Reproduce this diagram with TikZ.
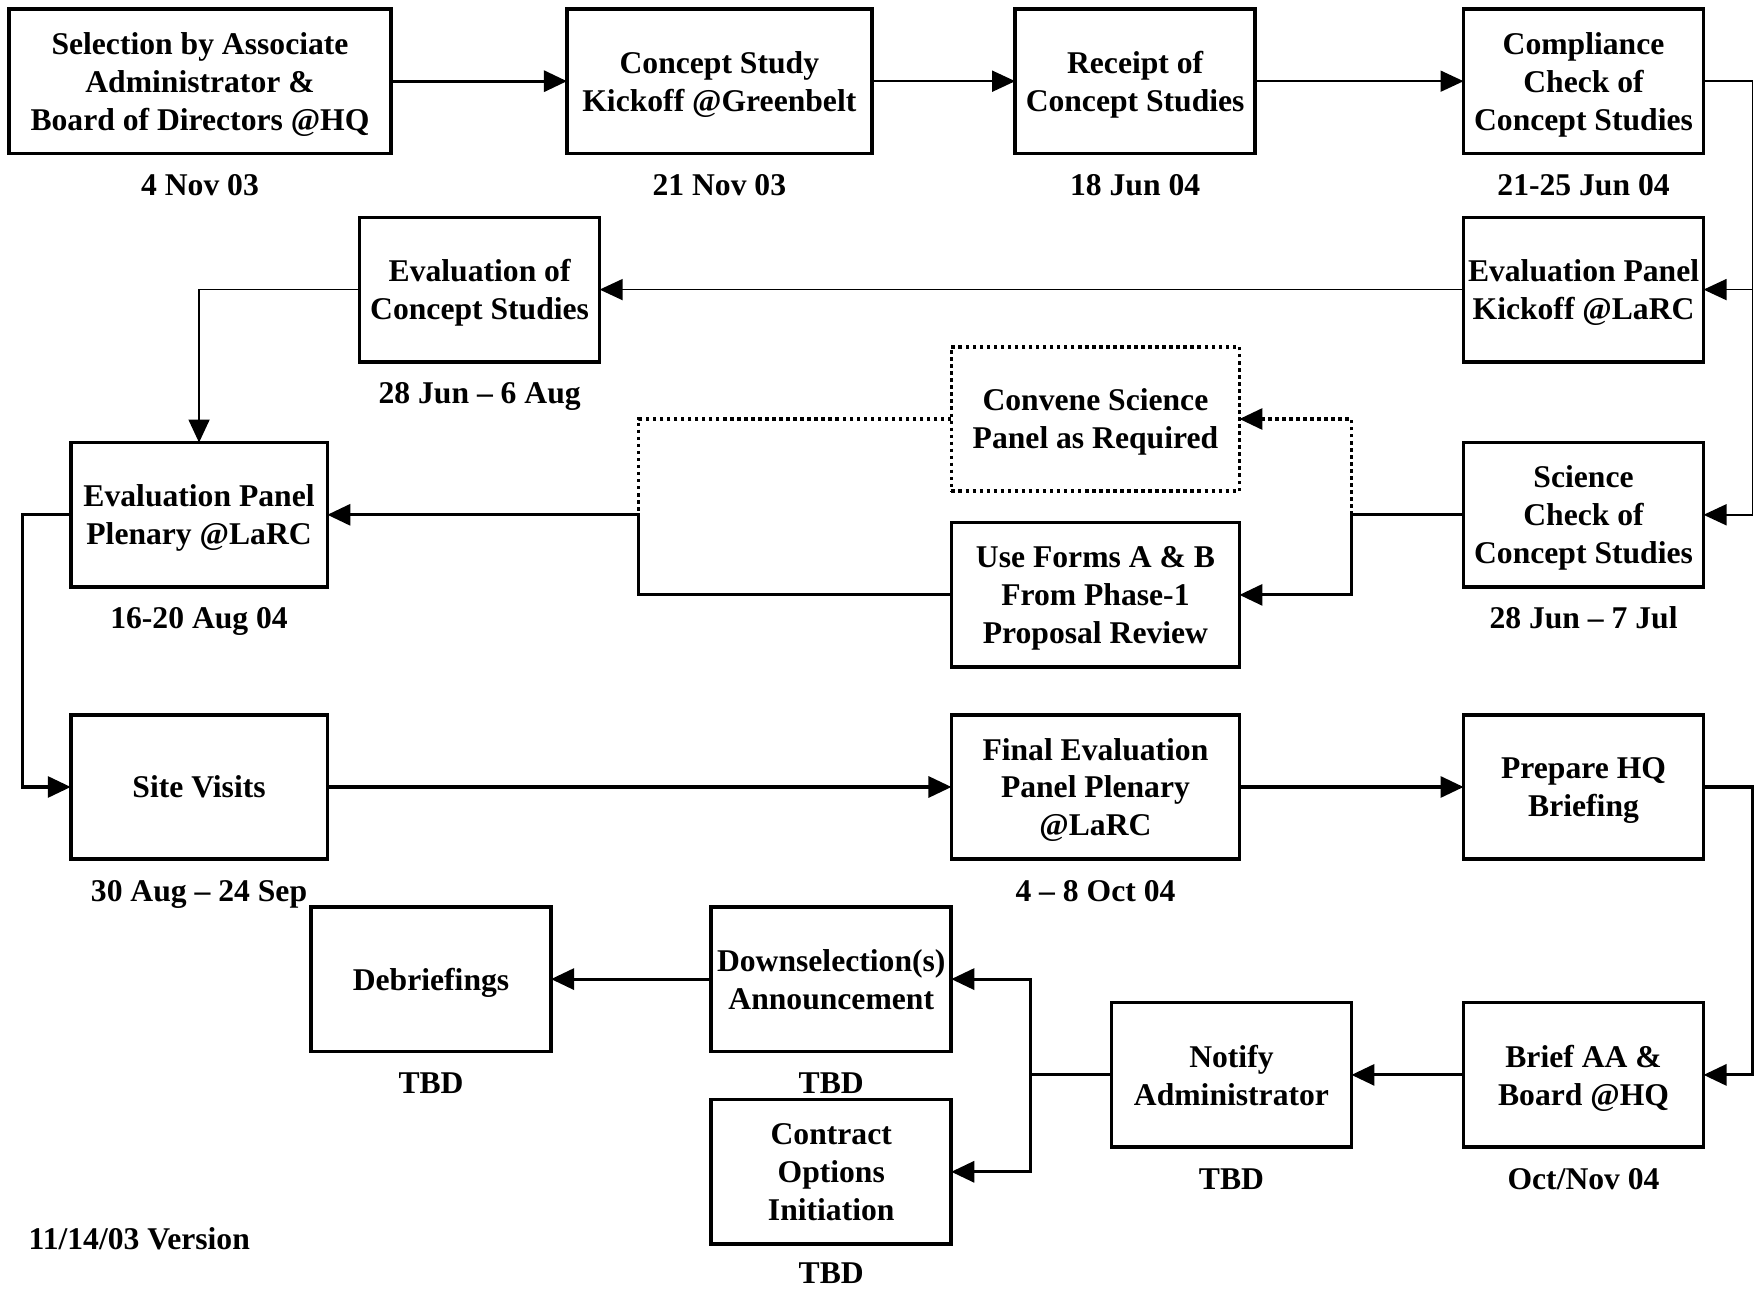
\documentclass[tikz,border=0pt]{standalone}
\usepackage{fontspec}
\setmainfont{Liberation Serif}
\usepackage{tikz}
\usetikzlibrary{arrows.meta, positioning}

\begin{document}
\begin{tikzpicture}[
        node distance=0.6cm and 1.0cm,
        every node/.style={font=\fontsize{9}{10.8}\selectfont\bfseries},
        box/.style={draw, line width=1pt, minimum width=2.40cm, minimum height=1.445cm, inner sep=1pt, outer sep=0pt, text depth=0pt, align=center},
        optbox/.style={box, dash pattern=on 1pt off 1pt},
        date/.style={inner sep=0pt, text height=1.5ex, text depth=0.25ex},
        arr/.style={-{Triangle[length=2.3mm, width=2.1mm]}, line width=0.5pt},
        harr/.style={arr, line width=0.9pt},
        hline/.style={line width=0.9pt},
        oarr/.style={harr, dash pattern=on 1pt off 1pt},
        oline/.style={hline, dash pattern=on 1pt off 1pt}
    ]
        \useasboundingbox (0,0) rectangle (17.57,-12.91);

        % first row
        \node[box, minimum width=3.821cm] (select) at (2.00,-0.812) {Selection by Associate \\ Administrator \& \\ Board of Directors @HQ};
        \node[box, minimum width=3.048cm, right=1.759cm of select] (kickoff) {Concept Study \\ Kickoff @Greenbelt};
        \node[box, right=1.434cm of kickoff] (receipt) {Receipt of \\ Concept Studies};
        \node[box, right=2.084cm of receipt] (comply) {Compliance \\ Check of \\ Concept Studies};

        % second and third rows
        \node[box, below=0.639cm of comply] (pkick) {Evaluation Panel \\ Kickoff @LaRC};
        \node[box, left=8.639cm of pkick] (evalcs) {Evaluation of \\ Concept Studies};
        \node[box, below=0.807cm of pkick] (scicheck) {Science \\ Check of \\ Concept Studies};
        \node[box, minimum width=2.566cm, left=11.362cm of scicheck] (plenary) {Evaluation Panel \\ Plenary @LaRC};
        \node[box, minimum width=2.880cm, left=2.241cm of scicheck, yshift=-0.801cm] (forms) {Use Forms A \& B \\ From Phase-1 \\ Proposal Review};
        \node[optbox, minimum width=2.880cm, above=0.314cm of forms] (convene) {Convene Science \\ Panel as Required};

        % fourth row
        \node[box, minimum width=2.566cm, below=1.277cm of plenary] (visits) {Site Visits};
        \node[box, minimum width=2.880cm, right=6.241cm of visits] (final) {Final Evaluation \\ Panel Plenary \\ @LaRC};
        \node[box, right=2.241cm of final] (prepare) {Prepare HQ \\ Briefing};

        % last row
        \node[box, below=1.434cm of prepare] (brief) {Brief AA \& \\ Board @HQ};
        \node[box, left=1.121cm of brief] (notify) {Notify \\ Administrator};
        \node[box, left=1.602cm of notify, yshift=0.958cm] (downsel) {Downselection(s) \\ Announcement};
        \node[box, below=0.482cm of downsel] (contract) {Contract \\ Options \\ Initiation};
        \node[box, left=1.602cm of downsel] (debrief) {Debriefings};

        % dates
        \node[date, below=1.7mm of select] (selectD) {4 Nov 03};
        \node[date, below=1.7mm of kickoff] (kickoffD) {21 Nov 03};
        \node[date, below=1.7mm of receipt] (receiptD) {18 Jun 04};
        \node[date, below=1.7mm of comply] (complyD) {21-25 Jun 04};
        \node[date, below=1.7mm of evalcs] (evalcsD) {28 Jun -- 6 Aug};
        \node[date, below=1.7mm of plenary] (plenaryD) {16-20 Aug 04};
        \node[date, below=1.7mm of scicheck] (scicheckD) {28 Jun -- 7 Jul};
        \node[date, below=1.7mm of visits] (visitsD) {30 Aug -- 24 Sep};
        \node[date, below=1.7mm of final] (finalD) {4 -- 8 Oct 04};
        \node[date, below=1.7mm of brief] (briefD) {Oct/Nov 04};
        \node[date, below=1.7mm of notify] (notifyD) {TBD};
        \node[date, below=1.7mm of downsel] (downselD) {TBD};
        \node[date, below=1.5mm of contract] (contractD) {TBD};
        \node[date, below=1.7mm of debrief] (debriefD) {TBD};
        \node[date, anchor=west] (version) at (0.28,-12.39) {11/14/03 Version};

        % connectors
        \draw[harr] (select) -- (kickoff);
        \draw[arr] (kickoff) -- (receipt);
        \draw[arr] (receipt) -- (comply);
        \draw[arr] (comply.east) -- ++(0.49,0) |- (pkick.east);
        \draw[arr] (comply.east) -- ++(0.49,0) |- (scicheck.east);
        \draw[arr] (pkick) -- (evalcs);
        \draw[arr] (evalcs.west) -| (plenary.north);
        \draw[hline] (scicheck.west) -- ++(-1.121,0) coordinate (split);
        \draw[harr] (split) |- (forms.east);
        \draw[oarr] (split) |- (convene.east);
        \draw[harr] (forms.west) -- ++(-3.126,0) coordinate (join) |- (plenary.east);
        \draw[oline] (convene.west) -| (join |- plenary.east);
        \draw[harr] (plenary.west) -- ++(-0.48,0) |- (visits.west);
        \draw[harr] (visits) -- (final);
        \draw[harr] (final) -- (prepare);
        \draw[harr] (prepare.east) -- ++(0.49,0) |- (brief.east);
        \draw[harr] (brief) -- (notify);
        \draw[hline] (notify.west) -- ++(-0.807,0) coordinate (fork);
        \draw[harr] (fork) |- (downsel.east);
        \draw[harr] (fork) |- (contract.east);
        \draw[harr] (downsel) -- (debrief);
    \end{tikzpicture}
\end{document}
